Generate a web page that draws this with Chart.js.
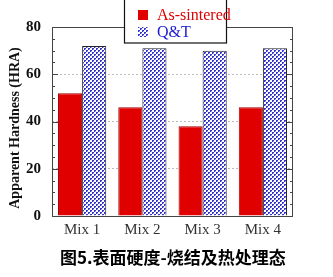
<!DOCTYPE html>
<html>
<head>
<meta charset="utf-8">
<script src="https://cdn.jsdelivr.net/npm/chart.js@4.4.0/dist/chart.umd.min.js"></script>
<style>
  html, body { margin: 0; padding: 0; background: #fff; }
  #wrap { width: 333px; height: 277px; position: relative; }
</style>
</head>
<body>
<div id="wrap"><canvas id="myChart"></canvas></div>
<script>
const categories = ['Mix 1', 'Mix 2', 'Mix 3', 'Mix 4'];
const asSintered = [52, 46, 38, 46];
const qt = [72, 71, 70, 71];
const seriesNames = ['As-sintered', 'Q&T'];
const yTicks = [0, 20, 40, 60, 80];
const yTitle = 'Apparent Hardness (HRA)';
const caption = '图5.表面硬度-烧结及热处理态';

const serif = '"Liberation Serif", "DejaVu Serif", serif';

// checker dot pattern for the Q&T bars
function makePattern() {
    const c = document.createElement('canvas');
    c.width = 4; c.height = 4;
    const g = c.getContext('2d');
    g.fillStyle = '#ffffff';
    g.fillRect(0, 0, 4, 4);
    g.fillStyle = '#3434c8';
    g.fillRect(0, 0, 2, 2);
    g.fillRect(2, 2, 2, 2);
    g.fillStyle = '#a8a8ec';
    g.fillRect(1, 1, 1, 1);
    g.fillRect(3, 3, 1, 1);
    return document.createElement('canvas').getContext('2d').createPattern(c, 'repeat');
}
const dotPattern = makePattern();

const framePlugin = {
    id: 'frame',
    afterDatasetsDraw(chart) {
        const ctx = chart.ctx;
        const a = chart.chartArea;
        const y = chart.scales.y;
        ctx.save();
        ctx.strokeStyle = '#444';
        ctx.lineWidth = 1;
        ctx.strokeRect(a.left + 0.5, a.top + 0.5, a.right - a.left - 1, a.bottom - a.top);
        ctx.beginPath();
        for (let v = 0; v <= 80; v += 5) {
            const py = Math.round(y.getPixelForValue(v)) + 0.5;
            const len = v % 20 === 0 ? 6 : 3;
            ctx.moveTo(a.left, py); ctx.lineTo(a.left + len, py);
            ctx.moveTo(a.right, py); ctx.lineTo(a.right - len, py);
        }
        ctx.stroke();
        ctx.restore();
    },
    afterDraw(chart) {
        const ctx = chart.ctx;
        ctx.save();
        // y title
        ctx.translate(15, 128);
        ctx.rotate(-Math.PI / 2);
        ctx.fillStyle = '#111';
        ctx.font = 'bold 14px ' + serif;
        ctx.textAlign = 'center';
        ctx.textBaseline = 'middle';
        ctx.fillText(yTitle, 0, 0);
        ctx.restore();

        // legend box
        ctx.save();
        ctx.fillStyle = '#fff';
        ctx.fillRect(124, 0, 102, 43);
        ctx.strokeStyle = '#111';
        ctx.lineWidth = 1.2;
        ctx.strokeRect(124.5, -1, 102, 44);
        const ds = chart.data.datasets;
        const colors = ['#dd0000', '#1a1ad0'];
        ds.forEach((d, i) => {
            const cy = 15 + i * 17;
            ctx.fillStyle = d.backgroundColor;
            ctx.fillRect(138, cy - 5, 10, 10);
            ctx.fillStyle = colors[i];
            ctx.font = '16px ' + serif;
            ctx.textBaseline = 'middle';
            ctx.fillText(d.label, 157, cy + 1);
        });
        ctx.restore();

        // caption
        ctx.save();
        ctx.fillStyle = '#000';
        ctx.font = 'bold 17px "Noto Sans CJK SC", sans-serif';
        ctx.textBaseline = 'middle';
        ctx.fillText(caption, 60, 258);
        ctx.restore();
    }
};

new Chart(document.getElementById('myChart'), {
    type: 'bar',
    data: {
        labels: categories,
        datasets: [{
            label: seriesNames[0],
            data: asSintered,
            backgroundColor: '#e00000',
            borderColor: '#a00000',
            borderWidth: 1
        }, {
            label: seriesNames[1],
            data: qt,
            backgroundColor: dotPattern,
            borderColor: '#222',
            borderWidth: 1
        }]
    },
    options: {
        responsive: true,
        maintainAspectRatio: false,
        animation: false,
        layout: { padding: { left: 0, right: 40, top: 27, bottom: 0 } },
        datasets: { bar: { barPercentage: 1, categoryPercentage: 0.8 } },
        plugins: {
            legend: { display: false },
            tooltip: { enabled: false }
        },
        scales: {
            x: {
                grid: { display: false, drawTicks: false },
                border: { display: false },
                ticks: { color: '#333', font: { family: serif, size: 15 }, padding: 5 },
                afterFit: function (s) { s.height = 61; }
            },
            y: {
                min: 0,
                max: 80,
                afterBuildTicks: function (s) { s.ticks = yTicks.map(v => ({ value: v })); },
                grid: {
                    color: (c) => (c.tick.value === 0 || c.tick.value === 80) ? 'rgba(0,0,0,0)' : '#bbb',
                    drawTicks: false
                },
                border: { display: false, dash: [2, 2] },
                ticks: { color: '#111', font: { family: serif, size: 15, weight: 'bold' }, padding: 11 },
                afterFit: function (s) { s.width = 52; }
            }
        }
    },
    plugins: [framePlugin]
});
</script>
</body>
</html>
